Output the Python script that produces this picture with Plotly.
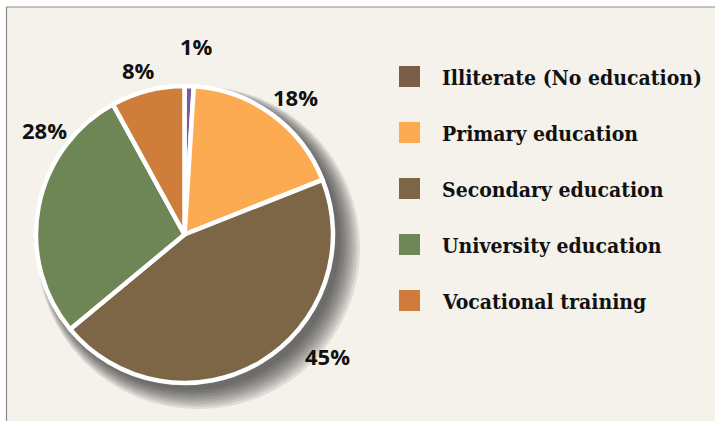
import plotly.graph_objects as go

# Education level shares (%)
categories = ["Illiterate (No education)", "Primary education", "Secondary education",
              "University education", "Vocational training"]
shares = [1, 18, 45, 28, 8]
slice_colors = ["#7b5a9b", "#fdab52", "#7c6646", "#6e8655", "#cf7d3a"]
legend_colors = ["#7b5e47", "#fdab52", "#7d6547", "#6f8756", "#cf7b3b"]

W, H = 715, 421

# pie geometry in pixels
cx, cy, r = 184.5, 234.5, 148.5

# where the percentage labels sit (pixels)
label_pos = [(196, 46), (295, 97), (327.5, 355.5), (44, 130), (138.5, 70)]


def px_x(x):
    return x / W


def px_y(y):
    return 1 - y / H


def dom(x0, y0, rad):
    return dict(x=[px_x(x0 - rad), px_x(x0 + rad)],
                y=[px_y(y0 + rad), px_y(y0 - rad)])


fig = go.Figure()

# soft drop shadow: stacked translucent discs
for k in range(9):
    fig.add_trace(go.Pie(
        values=[1], labels=["shadow"],
        domain=dom(cx + 6 + k * 1.0, cy + 6 + k * 0.9, r + 1 + k * 1.5),
        marker=dict(colors=["rgba(30,28,25,0.10)"], line=dict(width=0)),
        textinfo="none", hoverinfo="skip", sort=False, showlegend=False,
    ))

fig.add_trace(go.Pie(
    labels=categories,
    values=shares,
    domain=dom(cx, cy, r),
    sort=False,
    direction="clockwise",
    rotation=0,
    marker=dict(colors=slice_colors, line=dict(color="white", width=4.5)),
    textinfo="none",
    showlegend=False,
))

# percentage labels
for (lx, ly), v in zip(label_pos, shares):
    fig.add_annotation(x=px_x(lx), y=px_y(ly), xref="paper", yref="paper",
                       xanchor="center", yanchor="middle",
                       text=f"<b>{v}%</b>", showarrow=False,
                       font=dict(family="Open Sans", size=22, color="#111111"))

# background panel with frame
shapes = [dict(type="rect", xref="paper", yref="paper", layer="below",
               x0=px_x(6.5), x1=px_x(740), y0=px_y(450), y1=px_y(7),
               fillcolor="#f5f2ec", line=dict(color="#8c8a86", width=1.2))]

# legend drawn manually
for i, (name, col) in enumerate(zip(categories, legend_colors)):
    yc = 76.5 + i * 56
    shapes.append(dict(type="rect", xref="paper", yref="paper",
                       x0=px_x(399), x1=px_x(420), y0=px_y(yc + 10.5), y1=px_y(yc - 10.5),
                       fillcolor=col, line=dict(width=0)))
    fig.add_annotation(x=px_x(440), y=px_y(yc + 1), xref="paper", yref="paper",
                       text=f"<b>{name}</b>", showarrow=False,
                       xanchor="left", yanchor="middle",
                       font=dict(family="DejaVu Serif Condensed, DejaVu Serif", size=21,
                                 color="#111111"))

fig.update_layout(
    width=W, height=H,
    margin=dict(l=0, r=0, t=0, b=0),
    paper_bgcolor="white",
    shapes=shapes,
    showlegend=False,
)

fig.write_html("out.html", config={"displayModeBar": False},
               post_script="document.body.style.margin='0';")
